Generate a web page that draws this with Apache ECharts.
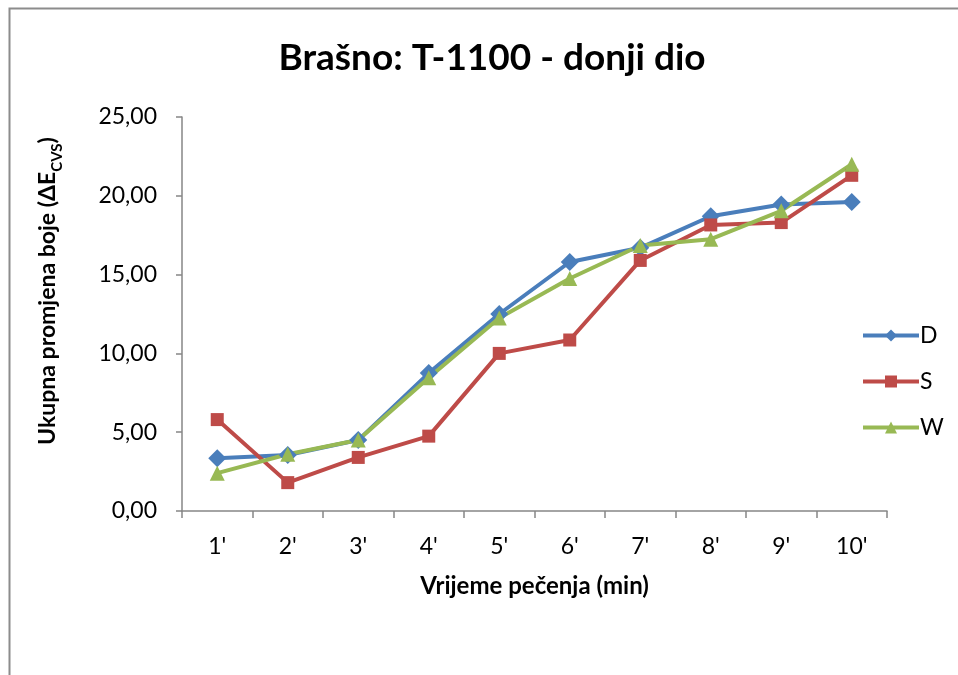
<!DOCTYPE html>
<html>
<head>
<meta charset="utf-8">
<script src="https://cdn.jsdelivr.net/npm/echarts@6/dist/echarts.min.js"></script>
<style>
  html, body { margin: 0; padding: 0; background: #fff; }
  #chart { width: 958px; height: 675px; }
</style>
</head>
<body>
<div id="chart"></div>
<script>
// categories (minutes of baking)
const categories = ["1'", "2'", "3'", "4'", "5'", "6'", "7'", "8'", "9'", "10'"];

// series values
const seriesD = [3.35, 3.55, 4.5, 8.75, 12.5, 15.8, 16.7, 18.7, 19.45, 19.6];
const seriesS = [5.8, 1.8, 3.4, 4.75, 10.0, 10.85, 15.9, 18.15, 18.3, 21.3];
const seriesW = [2.4, 3.6, 4.5, 8.45, 12.25, 14.75, 16.85, 17.25, 19.05, 22.0];

const yTicks = [0, 5, 10, 15, 20, 25];

const FONT = "Lato";
const axisGray = "#868686";

const chart = echarts.init(document.getElementById("chart"));

function lineSeries(name, data, color, symbol, size) {
  return {
    name: name,
    type: "line",
    data: data,
    symbol: symbol,
    symbolSize: size,
    showAllSymbol: true,
    lineStyle: { color: color, width: 4 },
    itemStyle: { color: color },
    emphasis: { disabled: true },
  };
}

chart.setOption({
  animation: false,
  textStyle: { fontFamily: FONT },
  title: {
    text: "Brašno: T-1100 - donji dio",
    left: 487,
    top: 35,
    textAlign: "center",
    textStyle: { fontFamily: FONT, fontSize: 37, fontWeight: "bold", color: "#000" },
  },
  graphic: [
    {
      type: "rect",
      shape: { x: 9.5, y: 8.5, width: 1200, height: 1000 },
      style: { fill: null, stroke: "#8c8c8c", lineWidth: 2 },
      silent: true,
    },
    {
      // y axis title with subscript
      type: "text",
      x: 45,
      y: 291,
      rotation: Math.PI / 2,
      style: {
        text: "{a|Ukupna promjena boje (ΔE}{s|CVS}{a|)}",
        align: "center",
        verticalAlign: "middle",
        rich: {
          a: { fontFamily: FONT, fontSize: 23, fontWeight: "bold", fill: "#000", lineHeight: 28, verticalAlign: "bottom" },
          s: { fontFamily: FONT, fontSize: 15, fontWeight: "bold", fill: "#000", lineHeight: 28, verticalAlign: "bottom", padding: [0, 0, -6, 0] },
        },
      },
      silent: true,
    },
  ],
  legend: {
    orient: "vertical",
    left: 856,
    top: 319,
    itemWidth: 56,
    itemHeight: 15,
    itemGap: 23,
    lineStyle: { width: 4 },
    textStyle: { fontFamily: FONT, fontSize: 23, color: "#000", padding: [0, 0, 0, -4] },
    data: ["D", "S", "W"],
  },
  grid: { left: 182, top: 117, width: 705, height: 394, containLabel: false },
  xAxis: {
    type: "category",
    data: categories,
    boundaryGap: true,
    name: "Vrijeme pečenja (min)",
    nameLocation: "middle",
    nameGap: 63,
    nameTextStyle: { fontFamily: FONT, fontSize: 24, fontWeight: "bold", color: "#000" },
    axisLine: { lineStyle: { color: axisGray, width: 1.5 } },
    axisTick: { show: true, length: 7, alignWithLabel: false, lineStyle: { color: axisGray, width: 1.5 } },
    axisLabel: { fontFamily: FONT, fontSize: 23, color: "#000", margin: 24 },
    splitLine: { show: false },
  },
  yAxis: {
    type: "value",
    min: yTicks[0],
    max: yTicks[yTicks.length - 1],
    interval: 5,
    axisLine: { show: true, lineStyle: { color: axisGray, width: 1.5 } },
    axisTick: { show: true, length: 6, lineStyle: { color: axisGray, width: 1.5 } },
    axisLabel: {
      fontFamily: FONT,
      fontSize: 23,
      color: "#000",
      margin: 25,
      formatter: (v) => v.toFixed(2).replace(".", ","),
    },
    splitLine: { show: false },
  },
  series: [
    lineSeries("D", seriesD, "#4a7ebb", "diamond", 18),
    lineSeries("S", seriesS, "#be4b48", "rect", 13),
    lineSeries("W", seriesW, "#98b954", "triangle", 15),
  ],
});
</script>
</body>
</html>
